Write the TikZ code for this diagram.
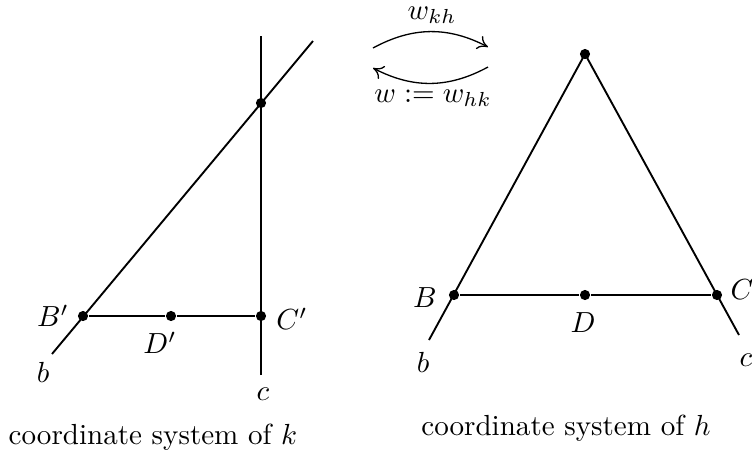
\documentclass[tikz,border=0pt]{standalone}
\usepackage{tikz}
\usetikzlibrary{arrows.meta}
\usepackage{amsmath}

\begin{document}
\begin{tikzpicture}[x=0.344pt, y=-0.344pt, >={To[length=3.5pt,width=5pt]}, line width=0.65pt,
    pt/.style={circle,fill,inner sep=0pt,minimum size=3.5pt},
    lbl/.style={inner sep=0pt}]
    \useasboundingbox (0,0) rectangle (752,456);

    % coordinate system of k
    \coordinate (kctop) at (261,36);
    \coordinate (kcbot) at (261,375);
    \coordinate (kbtop) at (313,41);
    \coordinate (kbbot) at (52,354);
    \draw (kcbot) -- (kctop);
    \draw (kbbot) -- (kbtop);
    \node[pt] (kA) at (261,103) {};
    \node[pt] (kB) at (83,316) {};
    \node[pt] (kD) at (171,316) {};
    \node[pt] (kC) at (261,316) {};
    \draw (kB) -- (kD) -- (kC);
    \node[lbl] (lkB) at (53,316) {$B'$};
    \node[lbl] (lkD) at (160,343) {$D'$};
    \node[lbl] (lkC) at (292,319) {$C'$};
    \node[lbl] (lkb) at (43,372) {$b$};
    \node[lbl] (lkc) at (263,394) {$c$};
    \node[lbl] (capk) at (153,437) {coordinate system of $k$};

    % coordinate system of h
    \node[pt] (hA) at (585,54) {};
    \node[pt] (hB) at (454,295) {};
    \node[pt] (hD) at (585,295) {};
    \node[pt] (hC) at (717,295) {};
    \coordinate (hbbot) at (429,340);
    \coordinate (hcbot) at (739,335);
    \draw (hA.center) -- (hbbot);
    \draw (hA.center) -- (hcbot);
    \draw (hB) -- (hD) -- (hC);
    \node[lbl] (lhB) at (425,298) {$B$};
    \node[lbl] (lhD) at (583,323) {$D$};
    \node[lbl] (lhC) at (742,290) {$C$};
    \node[lbl] (lhb) at (423,362) {$b$};
    \node[lbl] (lhc) at (746,360) {$c$};
    \node[lbl] (caph) at (566,428) {coordinate system of $h$};

    % maps between the two systems
    \coordinate (wl1) at (373,48);
    \coordinate (wr1) at (488,47);
    \coordinate (wr2) at (488,67);
    \coordinate (wl2) at (373,68);
    \draw[->,line width=0.45pt] (wl1) to[bend left=28] (wr1);
    \draw[->,line width=0.45pt] (wr2) to[bend left=28] (wl2);
    \node[lbl] (wkh) at (432,15) {$w_{kh}$};
    \node[lbl] (whk) at (433,98) {$w:=w_{hk}$};
\end{tikzpicture}
\end{document}
